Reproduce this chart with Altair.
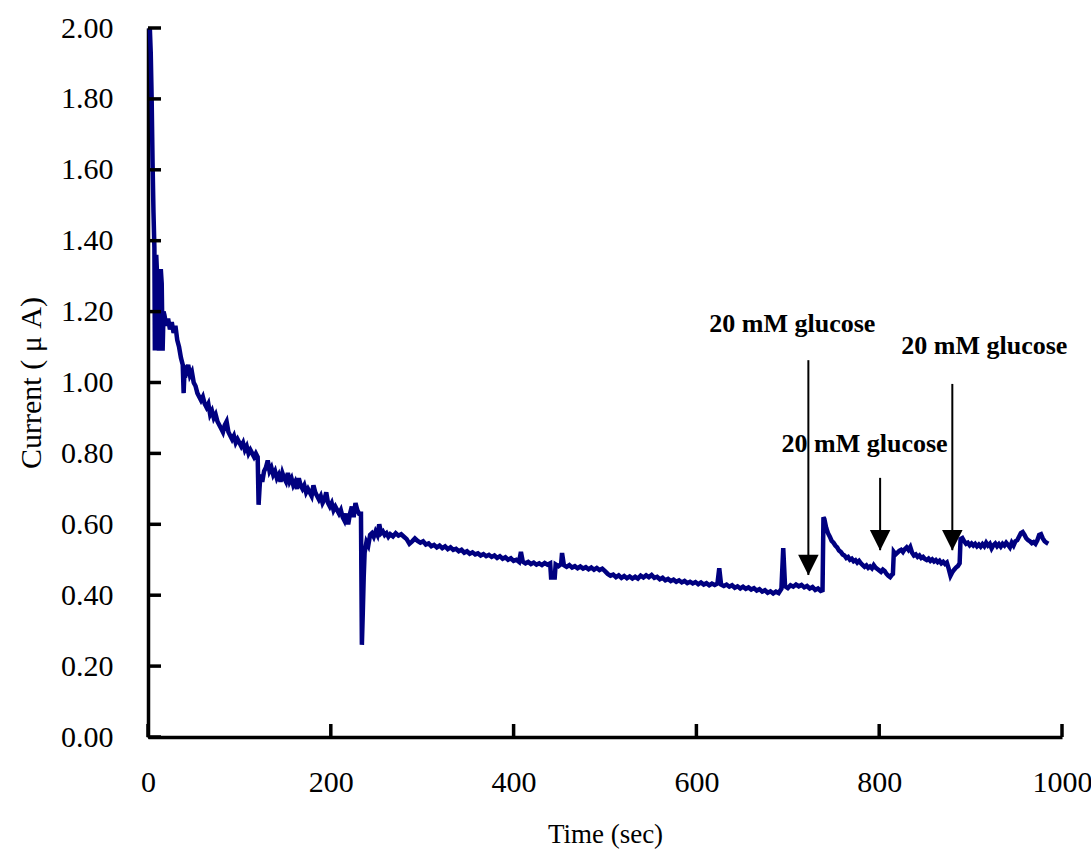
import altair as alt
import pandas as pd

# ---- data ----
time_s = [
    2, 3, 4, 5, 6, 7, 7.5, 8, 9, 10, 11, 12, 13, 14, 15, 16, 17, 18, 20, 22, 24, 26, 28, 30,
    32, 34, 36, 38, 39, 40, 42, 44, 46, 48, 50, 52, 54, 56, 58, 60, 62, 64, 66, 68, 70,
    72, 74, 76, 78, 80, 82, 84, 86, 88, 90, 92, 94, 96, 98, 100, 102, 104, 106, 108, 110,
    112, 114, 116, 118, 120, 121, 122, 123, 125, 127, 129, 131, 133, 135, 137, 139, 141,
    143, 145, 147, 149, 151, 153, 155, 157, 159, 161, 163, 165, 167, 169, 171, 173, 175,
    177, 179, 181, 183, 185, 187, 189, 191, 193, 195, 197, 199, 201, 203, 205, 207, 209,
    211, 213, 215, 217, 219, 221, 223, 225, 227, 229, 231, 233, 234, 235, 236, 237, 239,
    241, 243, 245, 247, 249, 251, 253, 255, 257, 259, 261, 263,
    265, 268, 271, 274, 277, 280, 283, 286, 289, 292, 295, 298, 301, 304, 307, 310, 313,
    316, 319, 322, 325, 328, 331, 334, 337, 340, 343, 346, 349, 352, 355, 358, 361, 364,
    367, 370, 373, 376, 379, 382, 385, 388, 391, 394, 397, 400, 403, 406, 408, 410, 413,
    416, 419, 422, 425, 428, 431, 434, 437, 440, 441, 445, 446, 449, 452, 453, 455, 458,
    461, 464, 467, 470, 473, 476, 479, 482, 485, 488, 491, 494, 497, 500, 503, 506, 509,
    512, 515, 518, 521, 524, 527, 530, 533, 536, 539, 542, 545, 548, 551, 554, 557, 560,
    563, 566, 569, 572, 575, 578, 581, 584, 587, 590, 593, 596, 599, 602, 605, 608, 611,
    614, 617, 620, 623, 625, 627, 630, 633, 636, 639, 642, 645, 648, 651, 654, 657, 660,
    663, 666, 669, 672, 675, 678, 681, 684, 687, 690, 693, 695, 697, 700, 703, 706, 709,
    712, 715, 718, 721, 724, 727, 730, 733, 736, 738, 739,
    740, 742, 744, 746, 748, 750, 752, 754, 756, 758, 760, 762, 764, 766, 768, 770, 772,
    774, 776, 778, 780, 782, 784, 786, 788, 790, 792, 794, 796, 798, 800, 802, 804, 806,
    808, 810, 812, 814, 815, 816, 818, 820, 822, 824, 826, 828, 830, 832, 834, 836, 838,
    840, 842, 844, 846, 848, 850, 852, 854, 856, 858, 860, 862, 864, 866, 868, 870, 872,
    874, 876, 878, 880, 882, 884, 886, 888, 889, 891, 893, 895, 897, 899, 901, 903, 905,
    907, 909, 911, 913, 915, 917, 919, 921, 923, 925, 927, 929, 931, 933, 935, 937, 939,
    941, 943, 945, 947, 949, 951, 953, 955, 957, 959, 961, 963, 965, 967, 969, 971, 973,
    975, 977, 979, 981, 983, 985,
]
current_uA = [
    2.00, 1.93, 1.80, 1.62, 1.48, 1.38, 1.09, 1.30, 1.36, 1.30, 1.18, 1.09, 1.20, 1.32, 1.28,
    1.09, 1.20, 1.19, 1.16, 1.18, 1.15, 1.17, 1.14, 1.16, 1.12, 1.10, 1.07, 1.05, 0.97, 1.04,
    1.03, 1.05, 1.02, 1.03, 1.00, 0.99, 0.97, 0.96, 0.95, 0.96, 0.94, 0.93, 0.94, 0.91, 0.92,
    0.90, 0.91, 0.89, 0.88, 0.87, 0.86, 0.88, 0.89, 0.86, 0.85, 0.84, 0.85, 0.83, 0.84, 0.83,
    0.82, 0.83, 0.81, 0.82, 0.80, 0.81, 0.80, 0.79, 0.80, 0.79, 0.655, 0.70, 0.74, 0.72, 0.75,
    0.76, 0.78, 0.75, 0.76, 0.74, 0.75, 0.73, 0.74, 0.72, 0.745, 0.73, 0.72, 0.745, 0.72, 0.73,
    0.71, 0.72, 0.70, 0.73, 0.71, 0.70, 0.71, 0.69, 0.70, 0.69, 0.68, 0.71, 0.69, 0.68, 0.67,
    0.68, 0.66, 0.67, 0.69, 0.66, 0.65, 0.66, 0.64, 0.65, 0.64, 0.63, 0.64, 0.62, 0.61, 0.63,
    0.60, 0.63, 0.65, 0.62, 0.66, 0.64, 0.63, 0.63, 0.26, 0.35, 0.45, 0.52, 0.55, 0.54, 0.57,
    0.575, 0.565, 0.58, 0.57, 0.60, 0.575, 0.58, 0.57, 0.575, 0.565,
    0.572, 0.566, 0.575, 0.568, 0.572, 0.565, 0.558, 0.545, 0.552, 0.560, 0.553, 0.548, 0.552,
    0.543, 0.546, 0.538, 0.542, 0.535, 0.540, 0.533, 0.538, 0.530, 0.535, 0.528, 0.531, 0.524,
    0.528, 0.520, 0.524, 0.517, 0.521, 0.515, 0.518, 0.512, 0.516, 0.510, 0.514, 0.508, 0.512,
    0.505, 0.510, 0.503, 0.507, 0.500, 0.504, 0.497, 0.500, 0.494, 0.522, 0.495, 0.490, 0.494,
    0.488, 0.492, 0.486, 0.490, 0.485, 0.491, 0.486, 0.490, 0.450, 0.450, 0.487, 0.482, 0.488,
    0.519, 0.485, 0.480, 0.485, 0.478, 0.482, 0.476, 0.481, 0.475, 0.479, 0.473, 0.478, 0.472,
    0.477, 0.471, 0.475, 0.468, 0.460, 0.455, 0.458, 0.451, 0.456, 0.449, 0.454, 0.448, 0.453,
    0.447, 0.452, 0.447, 0.455, 0.450, 0.456, 0.451, 0.457, 0.449, 0.452, 0.445, 0.449, 0.442,
    0.446, 0.440, 0.444, 0.438, 0.442, 0.436, 0.440, 0.434, 0.438, 0.433, 0.437, 0.431, 0.436,
    0.430, 0.434, 0.428, 0.433, 0.429, 0.433, 0.476, 0.430, 0.426, 0.430, 0.424, 0.428, 0.421,
    0.425, 0.419, 0.424, 0.418, 0.422, 0.416, 0.420, 0.413, 0.417, 0.410, 0.414, 0.407, 0.411,
    0.405, 0.410, 0.406, 0.418, 0.533, 0.425, 0.420, 0.428, 0.424, 0.430, 0.425, 0.429, 0.422,
    0.426, 0.419, 0.423, 0.415, 0.419, 0.412, 0.414, 0.620,
    0.615, 0.590, 0.575, 0.565, 0.553, 0.548, 0.540, 0.535, 0.526, 0.522, 0.515, 0.512, 0.505,
    0.508, 0.500, 0.503, 0.496, 0.499, 0.492, 0.497, 0.490, 0.485, 0.480, 0.484, 0.477, 0.481,
    0.476, 0.485, 0.478, 0.474, 0.470, 0.466, 0.472, 0.468, 0.460, 0.455, 0.451, 0.458, 0.460,
    0.522, 0.515, 0.520, 0.525, 0.528, 0.522, 0.530, 0.535, 0.528, 0.536, 0.520, 0.512, 0.515,
    0.508, 0.512, 0.505, 0.508, 0.502, 0.499, 0.503, 0.497, 0.501, 0.495, 0.499, 0.493, 0.497,
    0.490, 0.494, 0.488, 0.492, 0.475, 0.455, 0.465, 0.472, 0.478, 0.482, 0.490, 0.558, 0.561,
    0.552, 0.545, 0.548, 0.541, 0.546, 0.540, 0.545, 0.538, 0.543, 0.537, 0.544, 0.538, 0.548,
    0.540, 0.545, 0.532, 0.541, 0.546, 0.538, 0.544, 0.537, 0.545, 0.540, 0.548, 0.542, 0.535,
    0.548, 0.540, 0.552, 0.555, 0.565, 0.575, 0.578, 0.570, 0.560, 0.555, 0.552, 0.547, 0.550,
    0.545, 0.555, 0.570, 0.572, 0.560, 0.552, 0.548, 0.545,
]

x_ticks = [0, 200, 400, 600, 800, 1000]
y_ticks = [0.0, 0.2, 0.4, 0.6, 0.8, 1.0, 1.2, 1.4, 1.6, 1.8, 2.0]

label_text = ["20 mM glucose", "20 mM glucose", "20 mM glucose"]
label_t = [705, 784, 915]
label_i = [1.142, 0.804, 1.080]

arrow_t = [722.5, 801, 880]
arrow_top = [1.063, 0.731, 0.996]
arrow_tip = [0.457, 0.527, 0.527]

# ---- tables ----
trace = pd.DataFrame({"t": time_s, "i": current_uA})
labels = pd.DataFrame({"t": label_t, "i": label_i, "text": label_text})
arrows = pd.DataFrame({"t": arrow_t, "i": arrow_top, "i2": arrow_tip})
xt = pd.DataFrame({"t": x_ticks})
yt = pd.DataFrame({"i": y_ticks})

W, H = 914, 709
SERIF = "Liberation Serif"

xscale = alt.Scale(domain=[0, 1000], nice=False, zero=True)
yscale = alt.Scale(domain=[0, 2], nice=False)

line = alt.Chart(trace).mark_line(color="#000080", strokeWidth=4.5, strokeJoin="miter").encode(
    x=alt.X("t:Q", scale=xscale, axis=alt.Axis(
        title="Time (sec)", values=x_ticks, format="d", grid=False, ticks=False,
        domainColor="black", domainWidth=3.5, labelFont=SERIF, labelFontSize=30,
        labelColor="black", labelPadding=30, labelFlush=False,
        titleFont=SERIF, titleFontSize=27, titleFontWeight="normal", titleColor="black",
        titlePadding=24)),
    y=alt.Y("i:Q", scale=yscale, axis=alt.Axis(
        title="Current ( μ A)", values=y_ticks, format=".2f", grid=False, ticks=False,
        domainColor="black", domainWidth=3.5, labelFont=SERIF, labelFontSize=30,
        labelColor="black", labelPadding=35, labelFlush=False,
        titleFont=SERIF, titleFontSize=30, titleFontWeight="normal", titleColor="black",
        titlePadding=14)),
)

ytick_rules = alt.Chart(yt).mark_rule(color="black", strokeWidth=3.5).encode(
    y=alt.Y("i:Q", scale=yscale), x=alt.value(0), x2=alt.value(13))
xtick_rules = alt.Chart(xt).mark_rule(color="black", strokeWidth=3.5).encode(
    x=alt.X("t:Q", scale=xscale), y=alt.value(H), y2=alt.value(H - 13))

arrow_lines = alt.Chart(arrows).mark_rule(color="black", strokeWidth=2).encode(
    x=alt.X("t:Q", scale=xscale), y=alt.Y("i:Q", scale=yscale), y2="i2:Q")
arrow_heads = alt.Chart(arrows).mark_point(
    shape="M-1,-1L1,-1L0,1Z", filled=True, color="black", opacity=1, size=420, yOffset=-10
).encode(x=alt.X("t:Q", scale=xscale), y=alt.Y("i2:Q", scale=yscale))

texts = alt.Chart(labels).mark_text(
    font=SERIF, fontWeight="bold", fontSize=26, color="black", align="center",
    baseline="alphabetic").encode(
    x=alt.X("t:Q", scale=xscale), y=alt.Y("i:Q", scale=yscale), text="text:N")

chart = alt.layer(line, ytick_rules, xtick_rules, arrow_lines, arrow_heads, texts).properties(
    width=W, height=H,
    autosize=alt.AutoSizeParams(type="none"),
    padding={"left": 148, "top": 28, "right": 29, "bottom": 115},
    background="white",
).configure_view(stroke=None)

chart.save("out.html", embed_options={"renderer": "svg", "actions": False})
